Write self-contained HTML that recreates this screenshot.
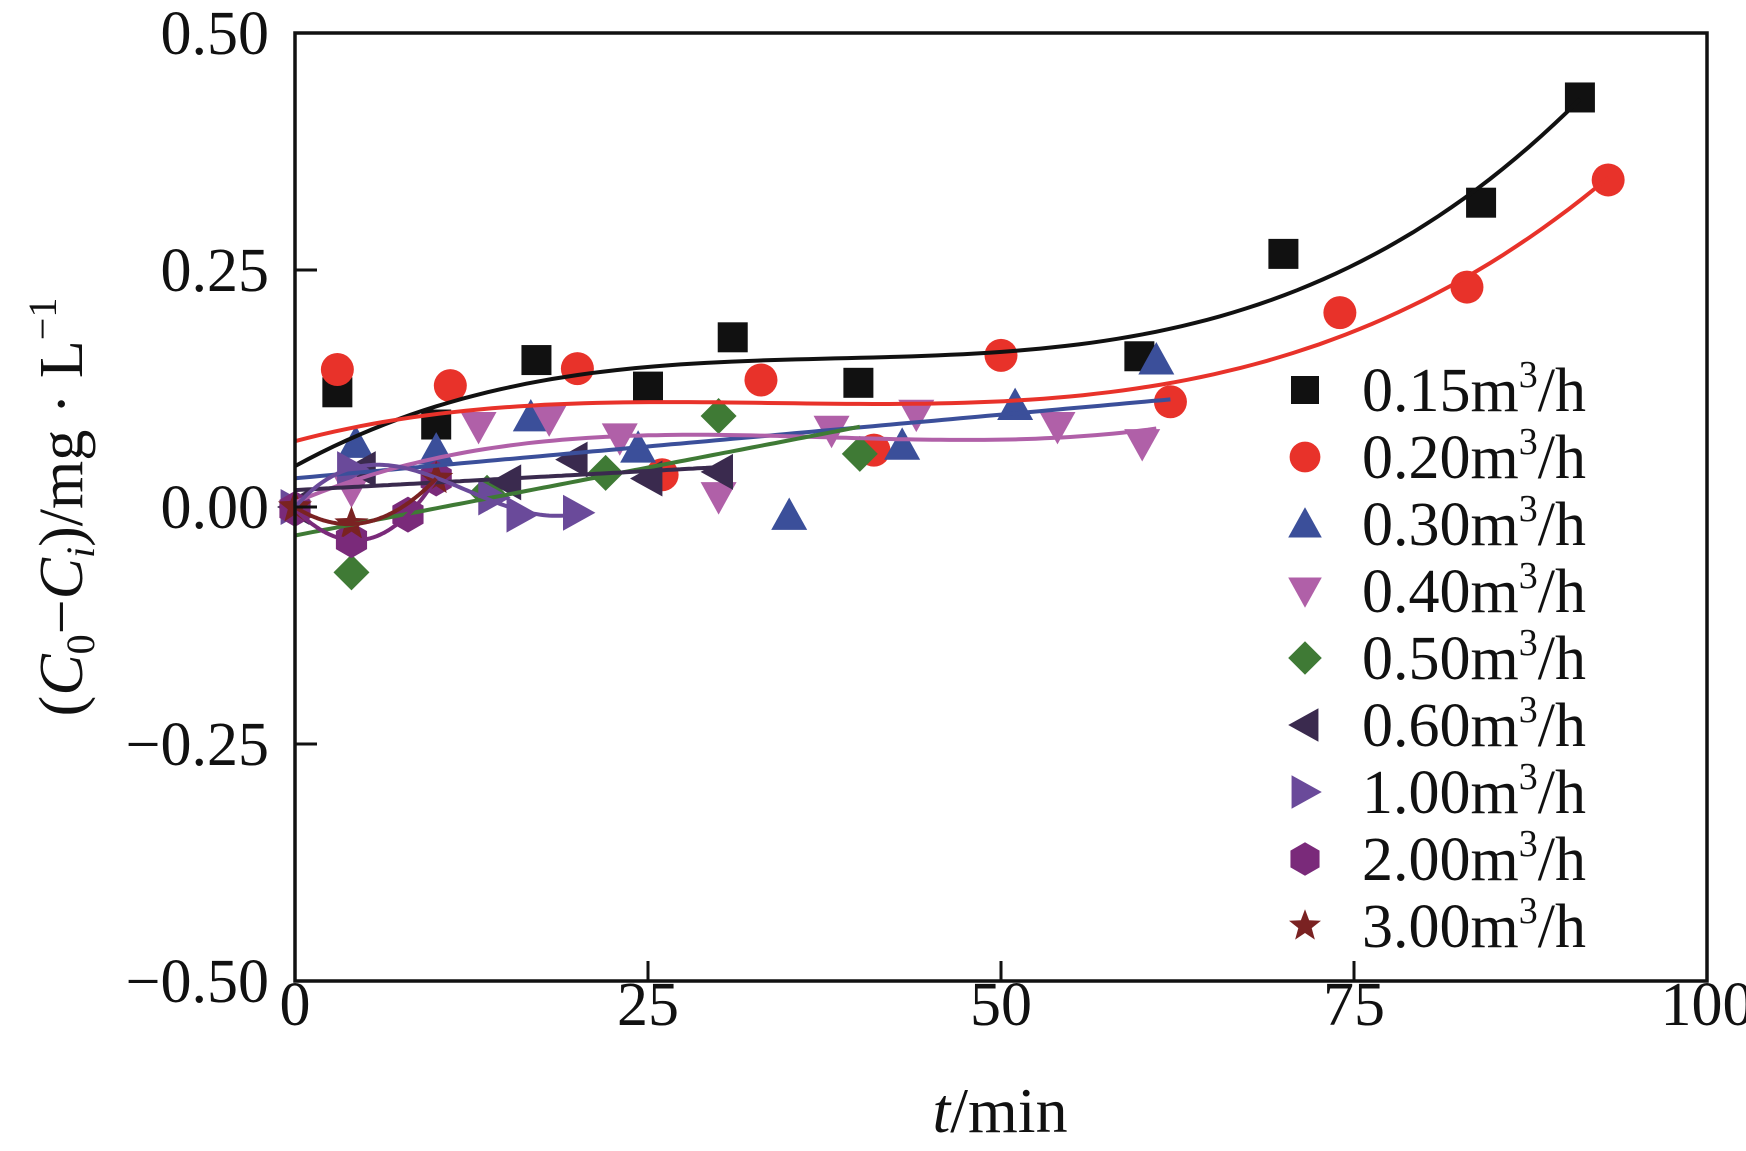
<!DOCTYPE html>
<html><head><meta charset="utf-8"><style>
html,body{margin:0;padding:0;background:#fff;}
svg{display:block;font-family:"Liberation Serif",serif;}
</style></head><body>
<svg id="chart" width="1746" height="1151" viewBox="0 0 1746 1151" xmlns="http://www.w3.org/2000/svg"></svg>
<script>
const seriesNames=["0.15m³/h","0.20m³/h","0.30m³/h","0.40m³/h","0.50m³/h","0.60m³/h","1.00m³/h","2.00m³/h","3.00m³/h"];
const s015x=[3,10,17.1,25,31,39.9,59.8,70,84,91];
const s015y=[0.121,0.087,0.155,0.127,0.179,0.131,0.159,0.267,0.321,0.432];
const s020x=[3,11,20,26,33,41,50,62,74,83,93];
const s020y=[0.145,0.128,0.146,0.034,0.134,0.06,0.16,0.111,0.205,0.232,0.345];
const s030x=[4.3,10,16.7,24.3,35,43,51,61];
const s030y=[0.067,0.06,0.095,0.062,-0.009,0.065,0.107,0.155];
const s040x=[4,13,18,23,30,38,44,54,60];
const s040y=[0.018,0.085,0.093,0.073,0.011,0.081,0.098,0.085,0.067];
const s050x=[4,13.6,22,30,40];
const s050y=[-0.069,0.015,0.036,0.096,0.056];
const s060x=[0,4.7,15,19.7,25,30];
const s060y=[0,0.04,0.026,0.05,0.03,0.037];
const s100x=[0,4,14,16,20];
const s100y=[0,0.04,0.01,-0.008,-0.006];
const s200x=[0,4,8,10];
const s200y=[-0.002,-0.035,-0.008,0.03];
const s300x=[0,4,10];
const s300y=[0,-0.018,0.03];
const xTicks=[0,25,50,75,100];
const yTicks=[0.5,0.25,0,-0.25,-0.5];
const yTickLabels=["0.50","0.25","0.00","−0.25","−0.50"];

const L=295,R=1707,T=33,B=981;
const X=v=>L+(v-0)/(100)*(R-L);
const Y=v=>B-(v+0.5)/1.0*(B-T);
const NS="http://www.w3.org/2000/svg";
const svg=document.getElementById('chart');
function mk(tag,attrs,parent){const e=document.createElementNS(NS,tag);for(const k in attrs)e.setAttribute(k,attrs[k]);(parent||svg).appendChild(e);return e;}

const series=[
 {x:s015x,y:s015y,c:"#111111",m:"square",deg:3,fx:[0,91]},
 {x:s020x,y:s020y,c:"#e8322a",m:"circle",deg:3,fx:[0,93]},
 {x:s030x,y:s030y,c:"#3b4f9a",m:"up",deg:1,fx:[0,62]},
 {x:s040x,y:s040y,c:"#b060a8",m:"down",deg:3,fx:[0,61]},
 {x:s050x,y:s050y,c:"#3f7a35",m:"diamond",deg:1,fx:[0,40]},
 {x:s060x,y:s060y,c:"#3a2a4e",m:"left",deg:1,fx:[0,30]},
 {x:s100x,y:s100y,c:"#6a4a9a",m:"right",deg:3,fx:[0,20]},
 {x:s200x,y:s200y,c:"#7a2a7a",m:"hex",deg:3,fx:[0,10]},
 {x:s300x,y:s300y,c:"#7a2222",m:"star",deg:2,fx:[0,10]}
];
function fit(xs0,ys0,d){
 const xs=xs0[0]===0?xs0:[0].concat(xs0);
 const ys=xs0[0]===0?ys0:[0].concat(ys0);
 const n=d+1;const A=[];for(let i=0;i<n;i++){A.push(new Array(n+1).fill(0));}
 for(let k=0;k<xs.length;k++){for(let i=0;i<n;i++){for(let j=0;j<n;j++)A[i][j]+=Math.pow(xs[k],i+j);A[i][n]+=ys[k]*Math.pow(xs[k],i);}}
 for(let i=0;i<n;i++){let p=i;for(let r=i+1;r<n;r++)if(Math.abs(A[r][i])>Math.abs(A[p][i]))p=r;[A[i],A[p]]=[A[p],A[i]];
  for(let r=0;r<n;r++){if(r===i)continue;const f=A[r][i]/A[i][i];for(let c=i;c<=n;c++)A[r][c]-=f*A[i][c];}}
 return A.map((row,i)=>row[n]/row[i]);
}
function marker(type,cx,cy,s,color,parent){
 let e;
 if(type==="square")e=mk('rect',{x:cx-s*0.5,y:cy-s*0.5,width:s,height:s},parent);
 else if(type==="circle")e=mk('circle',{cx:cx,cy:cy,r:s*0.55},parent);
 else{
  let pts;
  const h=s*0.6;
  if(type==="up")pts=[[0,-h],[h,h*0.8],[-h,h*0.8]];
  else if(type==="down")pts=[[0,h],[h,-h*0.8],[-h,-h*0.8]];
  else if(type==="left")pts=[[-h,0],[h*0.8,-h],[h*0.8,h]];
  else if(type==="right")pts=[[h,0],[-h*0.8,-h],[-h*0.8,h]];
  else if(type==="diamond")pts=[[0,-h],[h,0],[0,h],[-h,0]];
  else if(type==="hex"){pts=[];for(let i=0;i<6;i++){const a=Math.PI/6+i*Math.PI/3;pts.push([h*Math.cos(a),h*Math.sin(a)]);}}
  else {pts=[];for(let i=0;i<10;i++){const a=-Math.PI/2+i*Math.PI/5;const r=i%2?h*0.42:h;pts.push([r*Math.cos(a),r*Math.sin(a)]);}}
  e=mk('polygon',{points:pts.map(p=>(cx+p[0])+","+(cy+p[1])).join(" ")},parent);
 }
 e.setAttribute('fill',color);
 return e;
}
series.forEach((s,si)=>{
 const g=mk('g',{});
 
 
 s.x.forEach((xv,i)=>{const m=marker(s.m,X(xv),Y(s.y[i]),30,s.c,g);
  
  });
});
series.forEach((s,si)=>{
 const co=fit(s.x,s.y,s.deg);
 let d="";for(let i=0;i<=100;i++){const xv=s.fx[0]+(s.fx[1]-s.fx[0])*i/100;let yv=0;co.forEach((c,k)=>yv+=c*Math.pow(xv,k));d+=(i?"L":"M")+X(xv).toFixed(1)+","+Y(yv).toFixed(1);}
 const p=mk('path',{d:d,fill:"none",stroke:s.c,"stroke-width":4});
 
 
});
const fr=mk('rect',{x:L,y:T,width:R-L,height:B-T,fill:"none",stroke:"#111","stroke-width":3.5});


yTicks.forEach((v,i)=>{
 mk('line',{x1:L,x2:L+22,y1:Y(v),y2:Y(v),stroke:"#111","stroke-width":3});
 const t=mk('text',{x:L-26,y:Y(v)+21,"text-anchor":"end","font-size":62,fill:"#111"});
 t.textContent=yTickLabels[i];
 
 
});
xTicks.forEach(v=>{
 mk('line',{x1:X(v),x2:X(v),y1:B,y2:B-20,stroke:"#111","stroke-width":3});
 const t=mk('text',{x:X(v),y:B+44,"text-anchor":"middle","font-size":62,fill:"#111"});
 t.textContent=v;
 
 
});
const xt=mk('text',{x:1000,y:1132,"text-anchor":"middle","font-size":64,fill:"#111"});
xt.innerHTML='<tspan font-style="italic">t</tspan>/min';


const yt=mk('text',{x:0,y:0,"text-anchor":"middle","font-size":62,fill:"#111",transform:"translate(82,507) rotate(-90)"});
yt.innerHTML='(<tspan font-style="italic">C</tspan><tspan font-size="40" dy="12">0</tspan><tspan dy="-12">−</tspan><tspan font-style="italic">C</tspan><tspan font-size="40" font-style="italic" dy="12">i</tspan><tspan dy="-12">)/mg · L</tspan><tspan font-size="40" dy="-26">−1</tspan>';


series.forEach((s,i)=>{
 const y=390+i*67;
 const g=mk('g',{});
 
 
 marker(s.m,1305,y,28,s.c,g);
 const t=mk('text',{x:1362,y:y+21,"font-size":62,fill:"#111"},g);
 const nm=seriesNames[i].replace('m³/h','');
 t.innerHTML=nm+'m<tspan font-size="38" dy="-24">3</tspan><tspan dy="24">/h</tspan>';
});
</script>
</body></html>
